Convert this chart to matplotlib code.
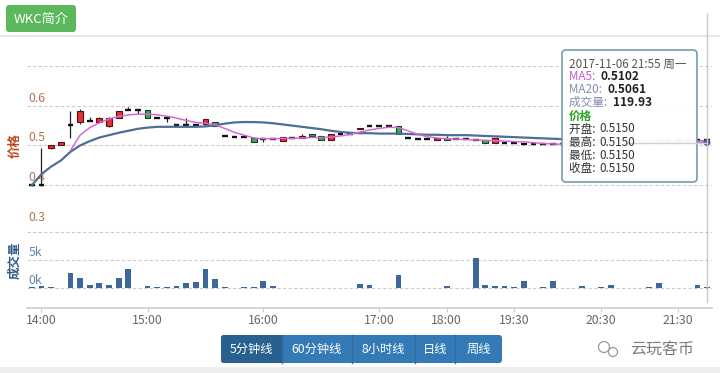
import numpy as np
import matplotlib
matplotlib.use("Agg")
import matplotlib.pyplot as plt
import matplotlib.transforms as mtransforms
from matplotlib.patches import FancyBboxPatch, Rectangle, Circle

plt.rcParams['font.family'] = ['Noto Sans CJK SC', 'DejaVu Sans']

# ---- data (5 minute candles) ----
opens = [0.400, 0.401, 0.493, 0.501, 0.551, 0.558, 0.562, 0.560, 0.549, 0.570,
         0.589, 0.589, 0.589, 0.570, 0.568, 0.552, 0.552, 0.552, 0.553, 0.559,
         0.524, 0.5215, 0.5215, 0.520, 0.5175, 0.5175, 0.5115, 0.520, 0.520, 0.528,
         0.524, 0.514, 0.528, 0.530, 0.541, 0.548, 0.549, 0.549, 0.548, 0.520,
         0.5157, 0.5157, 0.514, 0.520, 0.5157, 0.5157, 0.514, 0.514, 0.5075, 0.5075,
         0.5075, 0.503, 0.503, 0.503, 0.503, 0.503, 0.505, 0.505, 0.508, 0.508,
         0.510, 0.510, 0.512, 0.512, 0.512, 0.515, 0.515, 0.515, 0.515, 0.515,
         0.515]
highs = [0.401, 0.493, 0.502, 0.510, 0.587, 0.591, 0.572, 0.571, 0.571, 0.588,
         0.596, 0.589, 0.590, 0.570, 0.568, 0.552, 0.570, 0.552, 0.567, 0.560,
         0.524, 0.5215, 0.5215, 0.521, 0.5175, 0.5175, 0.5215, 0.520, 0.530, 0.528,
         0.524, 0.528, 0.528, 0.530, 0.545, 0.548, 0.549, 0.549, 0.548, 0.520,
         0.5157, 0.5157, 0.520, 0.525, 0.5157, 0.5157, 0.514, 0.514, 0.518, 0.5075,
         0.5075, 0.503, 0.503, 0.503, 0.503, 0.503, 0.505, 0.505, 0.508, 0.508,
         0.510, 0.510, 0.512, 0.512, 0.512, 0.515, 0.515, 0.515, 0.515, 0.515,
         0.515]
lows = [0.399, 0.398, 0.492, 0.500, 0.520, 0.555, 0.562, 0.559, 0.546, 0.569,
        0.589, 0.579, 0.569, 0.570, 0.558, 0.552, 0.552, 0.552, 0.552, 0.548,
        0.524, 0.5215, 0.5215, 0.510, 0.510, 0.5175, 0.5115, 0.520, 0.520, 0.523,
        0.514, 0.514, 0.528, 0.530, 0.541, 0.548, 0.549, 0.549, 0.528, 0.520,
        0.5157, 0.5157, 0.514, 0.514, 0.5157, 0.5157, 0.514, 0.5075, 0.5075, 0.5075,
        0.5075, 0.503, 0.503, 0.503, 0.503, 0.503, 0.505, 0.505, 0.508, 0.508,
        0.510, 0.510, 0.512, 0.512, 0.512, 0.515, 0.515, 0.515, 0.515, 0.515,
        0.515]
closes = [0.400, 0.401, 0.501, 0.509, 0.551, 0.588, 0.562, 0.570, 0.570, 0.587,
          0.589, 0.589, 0.570, 0.570, 0.568, 0.552, 0.552, 0.552, 0.566, 0.548,
          0.524, 0.5215, 0.5215, 0.510, 0.5175, 0.5175, 0.5215, 0.520, 0.523, 0.523,
          0.514, 0.528, 0.528, 0.530, 0.545, 0.548, 0.549, 0.549, 0.528, 0.520,
          0.5157, 0.5157, 0.520, 0.514, 0.5157, 0.5157, 0.514, 0.5075, 0.518, 0.5075,
          0.5075, 0.503, 0.503, 0.503, 0.503, 0.503, 0.505, 0.505, 0.508, 0.508,
          0.510, 0.510, 0.512, 0.512, 0.512, 0.515, 0.515, 0.515, 0.515, 0.515,
          0.515]
volumes = [100, 300, 250, 0, 2690, 1750, 625, 875, 560, 1750,
           3310, 0, 440, 100, 100, 300, 875, 1060, 3310, 1560,
           100, 0, 100, 100, 1190, 440, 60, 0, 0, 0,
           0, 60, 60, 0, 700, 625, 60, 0, 2380, 0,
           0, 60, 60, 310, 0, 0, 5300, 625, 310, 440,
           190, 1250, 0, 100, 1250, 0, 0, 310, 0, 100,
           560, 0, 0, 60, 100, 875, 60, 0, 0, 560,
           120]
nan = np.nan
ma5 = [nan, nan, nan, nan, 0.487, 0.526, 0.545, 0.557, 0.567, 0.573,
       0.577, 0.579, 0.579, 0.577, 0.574, 0.569, 0.563, 0.558, 0.556, 0.552,
       0.543, 0.533, 0.526, 0.519, 0.517, 0.517, 0.518, 0.518, 0.519, 0.520,
       0.520, 0.521, 0.524, 0.528, 0.534, 0.539, 0.543, 0.546, 0.545, 0.537,
       0.528, 0.522, 0.519, 0.517, 0.516, 0.515, 0.514, 0.513, 0.512, 0.511,
       0.510, 0.509, 0.507, 0.505, 0.504, 0.503, 0.503, 0.504, 0.505, 0.506,
       0.507, 0.508, 0.509, 0.510, 0.511, 0.512, 0.512, 0.512, 0.511, 0.511,
       0.510]
ma20 = [0.400, 0.428, 0.447, 0.462, 0.484, 0.500, 0.511, 0.520, 0.526, 0.532,
        0.537, 0.542, 0.545, 0.547, 0.547, 0.547, 0.547, 0.547, 0.548, 0.551,
        0.555, 0.558, 0.559, 0.559, 0.558, 0.556, 0.553, 0.550, 0.547, 0.544,
        0.541, 0.537, 0.534, 0.532, 0.531, 0.531, 0.530, 0.530, 0.530, 0.529,
        0.528, 0.527, 0.527, 0.526, 0.526, 0.526, 0.525, 0.524, 0.523, 0.522,
        0.521, 0.520, 0.519, 0.518, 0.517, 0.516, 0.515, 0.515, 0.514, 0.514,
        0.513, 0.513, 0.512, 0.512, 0.511, 0.511, 0.511, 0.510, 0.510, 0.510,
        0.510]

tick_pos = [1, 12, 24, 36, 43, 50, 59, 67]
tick_labels = ['14:00', '15:00', '16:00', '17:00', '18:00', '19:30', '20:30', '21:30']
price_ticks = [0.3, 0.4, 0.5, 0.6]
vol_ticks = [0, 5000]
vol_tick_labels = ['0k', '5k']
buttons = ['5分钟线', '60分钟线', '8小时线', '日线', '周线']
tip_title = '2017-11-06 21:55 周一'
tip_lines = [('MA5', '0.5102'), ('MA20', '0.5061'), ('成交量', '119.93')]
tip_ohlc = [('开盘', '0.5150'), ('最高', '0.5150'), ('最低', '0.5150'), ('收盘', '0.5150')]

W, H = 720, 373
fig = plt.figure(figsize=(W / 100, H / 100), dpi=100)
fig.patch.set_facecolor('white')


def fig_ax(x0, y0, x1, y1, **kw):
    return fig.add_axes([x0 / W, 1 - y1 / H, (x1 - x0) / W, (y1 - y0) / H], **kw)


n = len(closes)
xs = np.arange(n)
grid_kw = dict(color='#cccccc', lw=0.8, ls=(0, (3, 2)))

# ---- price panel ----
ax = fig_ax(27, 66, 712, 225)
ax.set_xlim(-0.5, n - 0.5)
ax.set_ylim(0.3, 0.7)
ax.axis('off')
for v in [0.3, 0.4, 0.5, 0.6, 0.7]:
    ax.axhline(v, zorder=0, **grid_kw)
blend = mtransforms.blended_transform_factory(ax.transAxes, ax.transData)
for v in price_ticks:
    ax.text(0.002, v + 0.003, f'{v:.1f}', transform=blend, color='#b8734f',
            fontsize=8.8, va='bottom', ha='left')

bw = 0.6
for i in range(n):
    o, h, l, c = opens[i], highs[i], lows[i], closes[i]
    if h > max(o, c) or l < min(o, c):
        ax.vlines(i, l, h, color='#222222', lw=0.9, zorder=2)
    if abs(c - o) < 1e-6:
        ax.hlines(o, i - bw / 2, i + bw / 2, color='#111111', lw=1.7, zorder=3)
    else:
        up = c > o
        ax.bar(i, abs(c - o), bw, bottom=min(o, c),
               color='#e0303a' if up else '#33b04a',
               edgecolor='#5a1010' if up else '#17441c', lw=0.8, zorder=3)

ax.plot(xs, ma20, color='#4d6f96', lw=1.6, zorder=4)
ax.plot(xs, ma5, color='#d46bd4', lw=1.1, zorder=4)

# ---- volume panel ----
vax = fig_ax(27, 232, 712, 308)
vax.set_xlim(-0.5, n - 0.5)
vax.set_ylim(-20 / 56 * 10000, 10000)
for s in ['top', 'right', 'left']:
    vax.spines[s].set_visible(False)
vax.spines['bottom'].set_color('#cccccc')
vax.spines['bottom'].set_linewidth(1.2)
vax.set_yticks([])
for v in [0, 5000, 10000]:
    vax.axhline(v, zorder=0, **grid_kw)
vax.bar(xs, volumes, 0.6, color='#3d6699', zorder=2)
vblend = mtransforms.blended_transform_factory(vax.transAxes, vax.transData)
for v, lab in zip(vol_ticks, vol_tick_labels):
    vax.text(0.002, v + 200, lab, transform=vblend, color='#6a86a8',
             fontsize=8.8, va='bottom', ha='left')
vax.set_xticks(tick_pos)
vax.set_xticklabels(tick_labels, color='#666666', fontsize=8.8)
vax.tick_params(axis='x', length=3, color='#cccccc', pad=1.5)

# ---- overlay in pixel coordinates (header, tooltip, buttons) ----
ov = fig.add_axes([0, 0, 1, 1], zorder=10)
ov.set_xlim(0, W)
ov.set_ylim(H, 0)
ov.axis('off')
ov.patch.set_alpha(0)

ov.text(15, 146, '价格', rotation=90, color='#c0461f', fontsize=9,
        fontweight='bold', ha='center', va='center')
ov.text(15, 260, '成交量', rotation=90, color='#2f5b8a', fontsize=9,
        fontweight='bold', ha='center', va='center')

# header
ov.add_patch(FancyBboxPatch((6, 5), 70, 27, boxstyle='round,pad=0,rounding_size=3',
                            facecolor='#5cb85c', edgecolor='none'))
ov.text(41, 19, 'WKC简介', color='white', fontsize=9.5, ha='center', va='center')
ov.plot([0, W], [36, 36], color='#e3e3e3', lw=1.2)

# crosshair
ov.plot([707, 707], [14, 302], color='#c8c8c8', lw=1)

# tooltip
ov.add_patch(FancyBboxPatch((562, 50), 135, 132, boxstyle='round,pad=0,rounding_size=4',
                            facecolor='white', alpha=0.95, edgecolor='#6a9aa8', lw=1.2))
ov.plot([625, 707], [142.5, 142.5], color='#d0d0d0', lw=1)
ov.add_patch(Circle((707, 142.5), 3.5, facecolor='#5e4fa2', edgecolor='none'))

tx = 569
ov.text(tx, 64, tip_title, color='#555555', fontsize=8.4, va='center')
label_colors = ['#cc55cc', '#7f8fa9', '#7f8fa9']
for k, ((lab, val), lc) in enumerate(zip(tip_lines, label_colors)):
    yy = 76.5 + 13 * k
    t = ov.text(tx, yy, lab + ': ', color=lc, fontsize=8.4, va='center')
    ov.annotate(val, xy=(1, 0.5), xycoords=t, xytext=(2, 0), textcoords='offset points',
                color='#222222', fontsize=8.6, fontweight='bold', va='center')
ov.text(tx, 116, '价格', color='#2aa52a', fontsize=8.4, fontweight='bold', va='center')
for k, (lab, val) in enumerate(tip_ohlc):
    yy = 129 + 13.2 * k
    t = ov.text(tx, yy, lab + ': ', color='#333333', fontsize=8.4, va='center')
    ov.annotate(val, xy=(1, 0.5), xycoords=t, xytext=(1, 0), textcoords='offset points',
                color='#333333', fontsize=8.4, va='center')

# period buttons
edges = [221, 282, 352, 415, 455, 502]
ov.add_patch(FancyBboxPatch((221, 335), 281, 28, boxstyle='round,pad=0,rounding_size=3',
                            facecolor='#337ab7', edgecolor='none'))
ov.add_patch(FancyBboxPatch((221, 335), 61, 28, boxstyle='round,pad=0,rounding_size=3',
                            facecolor='#286090', edgecolor='none'))
ov.add_patch(Rectangle((270, 335), 12, 28, facecolor='#286090', edgecolor='none'))
for e in edges[1:-1]:
    ov.plot([e, e], [335, 363], color='#2e6da4', lw=1)
for lab, a, b in zip(buttons, edges[:-1], edges[1:]):
    ov.text((a + b) / 2, 349, lab, color='white', fontsize=8.8, ha='center', va='center')

# watermark
ov.add_patch(Circle((604, 347), 5.5, facecolor='none', edgecolor='#9a9a9a', lw=0.9))
ov.add_patch(Circle((613, 352), 4.5, facecolor='white', edgecolor='#9a9a9a', lw=0.9))
ov.text(662, 349, '云玩客币', color='#7a7a7a', fontsize=11.5, ha='center', va='center')
ov.add_patch(Rectangle((0, 367), W, 6, facecolor='#eeeeee', edgecolor='none'))

fig.savefig('out.png', dpi=100)
